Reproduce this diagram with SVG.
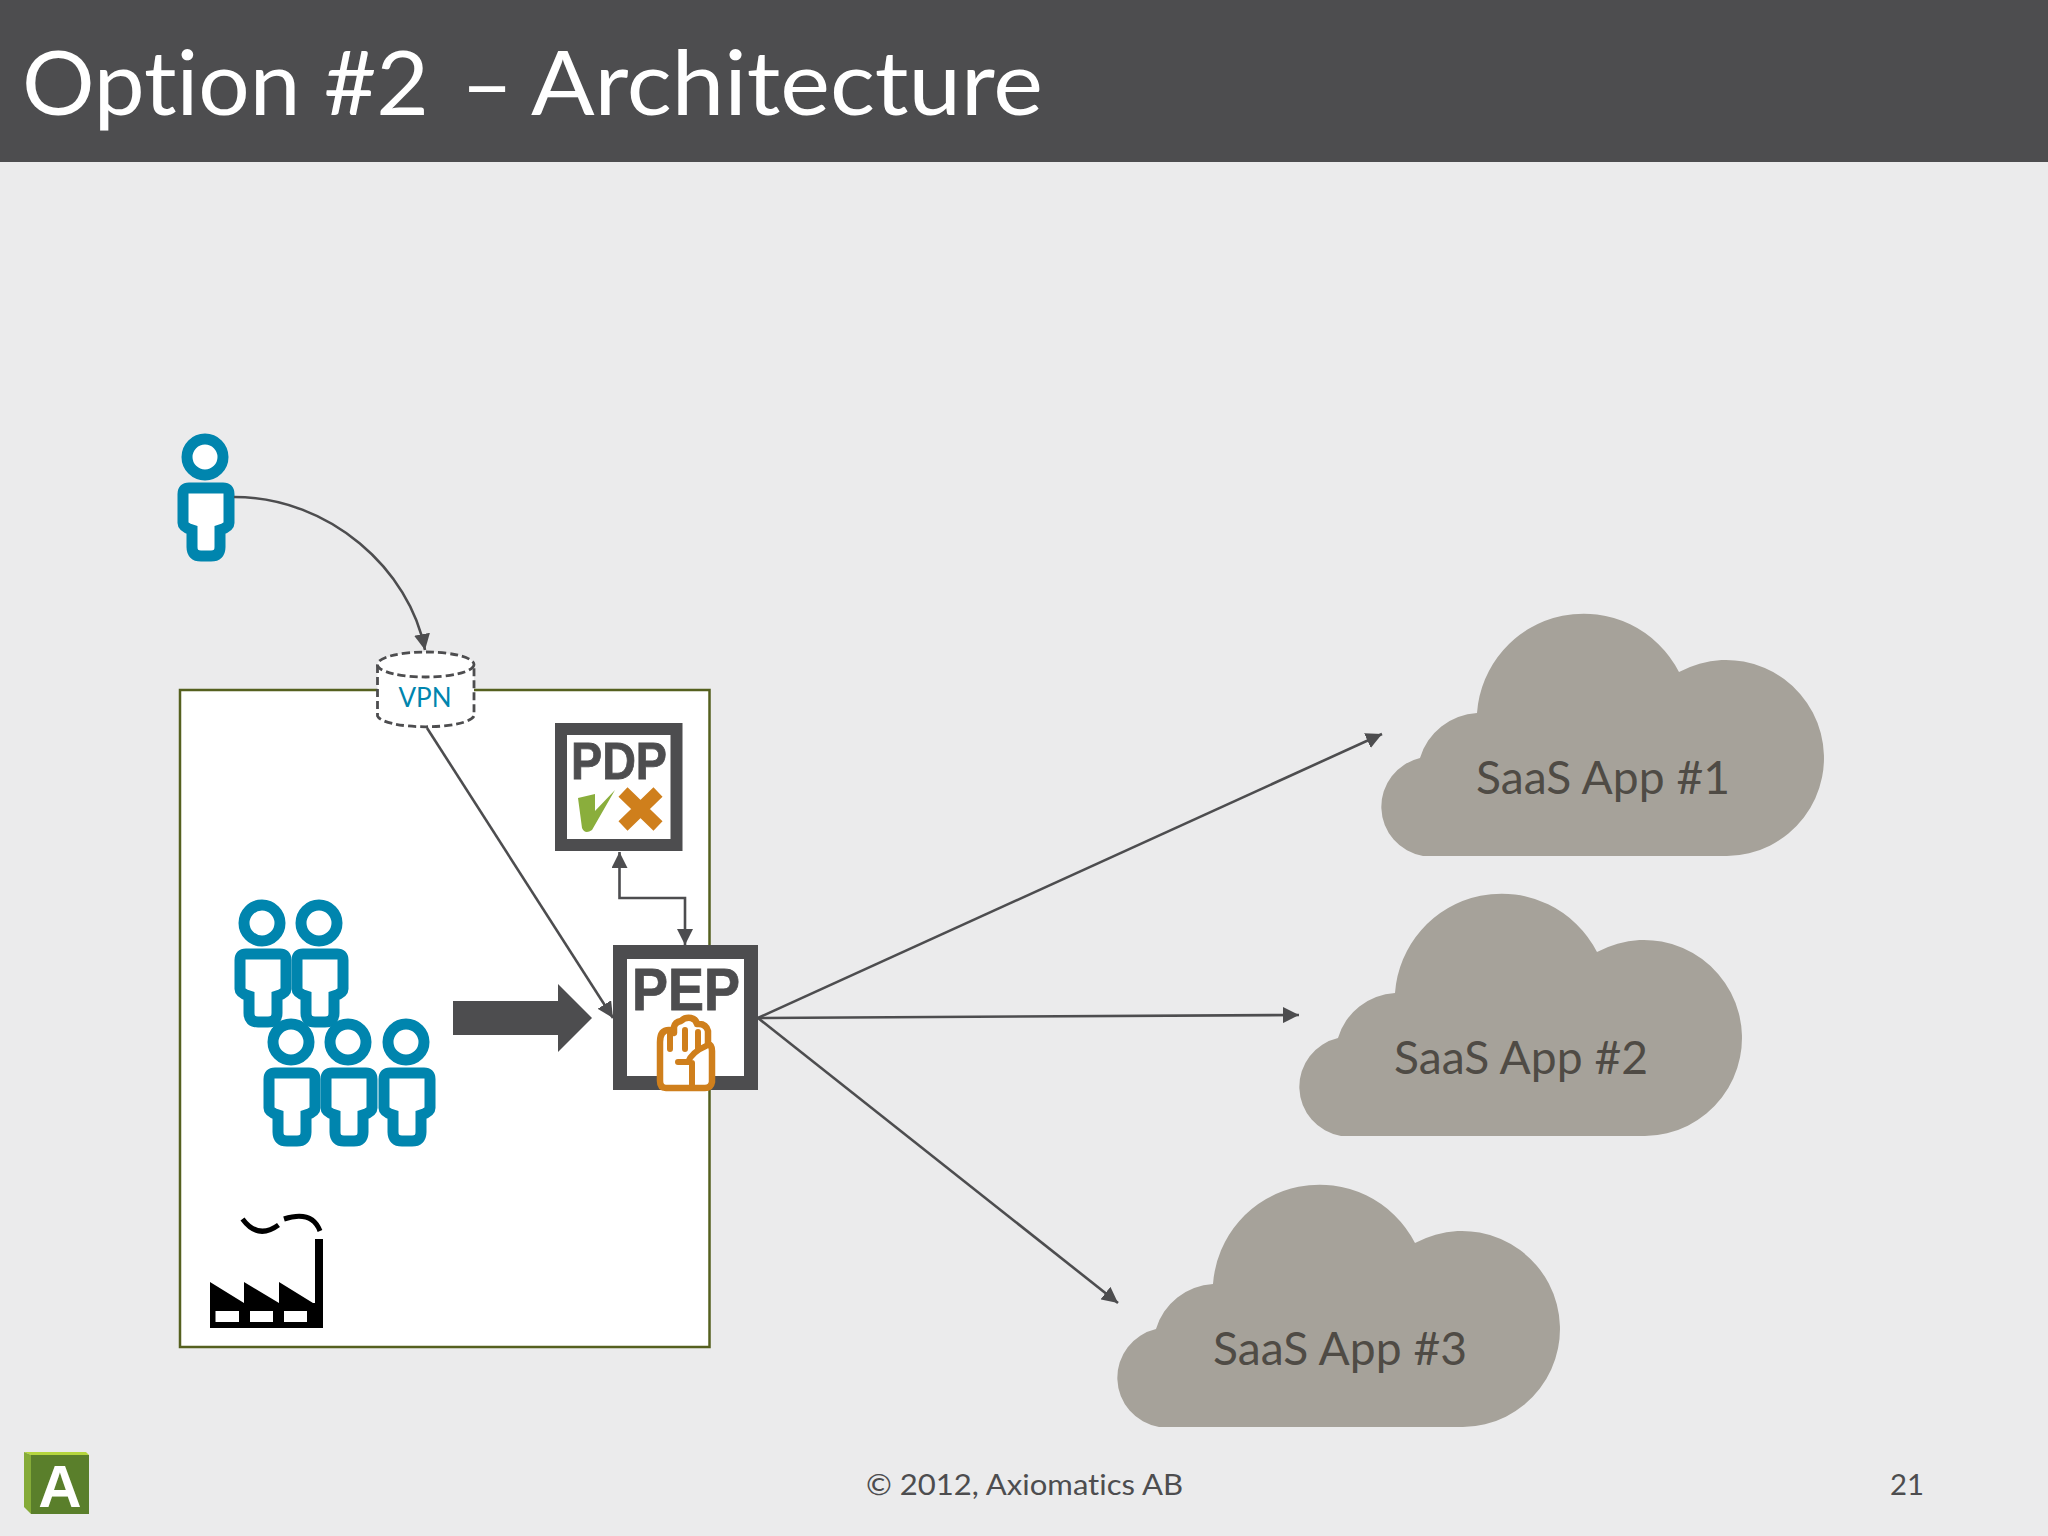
<svg xmlns="http://www.w3.org/2000/svg" xmlns:xlink="http://www.w3.org/1999/xlink" width="2048" height="1536" viewBox="0 0 2048 1536">
<style>
.t{font-family:"Lato","Open Sans",sans-serif;font-variant-ligatures:none;}
.b{font-family:"Liberation Sans",Arial,sans-serif;font-weight:bold;fill:#4D4D4F;stroke:#4D4D4F;stroke-width:.8;}
.con{fill:none;stroke:#4D4D4F;stroke-width:2.6;}
.ps{fill:#fff;stroke:#0085AE;stroke-width:11;}
.saas{font-size:46px;fill:#4F4B45;}
.foot{font-size:29px;fill:#4D4D4F;}
.cloud{fill:#A6A29A;}
</style>
<defs>
<marker id="ah" viewBox="0 0 16 16" refX="16" refY="8" markerWidth="16" markerHeight="16" markerUnits="userSpaceOnUse" orient="auto-start-reverse"><path d="M0,0L16,8L0,16Z" fill="#4D4D4F"/></marker>
<g id="person"><circle r="18" class="ps"/><path class="ps" d="M-16,31H18Q24,31 24,37V66Q24,70 15,73V90Q15,99 6,99H-4Q-13,99 -13,90V73Q-22,70 -22,66V37Q-22,31 -16,31Z"/></g>
<path id="cloudshape" class="cloud" d="M1423,856A50,50 0 0 1 1420,758A63,63 0 0 1 1477,713A107,107 0 0 1 1679,672A98,98 0 1 1 1727,856Z"/>
</defs>
<rect width="2048" height="1536" fill="#EBEBEC"/>
<g id="header"><rect width="2048" height="162" fill="#4D4D4F"/><text class="t" y="115" font-size="90" fill="#fff"><tspan x="22" textLength="407" lengthAdjust="spacingAndGlyphs">Option #2</tspan> <tspan x="461">–</tspan> <tspan x="531" textLength="512" lengthAdjust="spacingAndGlyphs">Architecture</tspan></text></g>
<g id="site"><rect x="180" y="690" width="529.5" height="657" fill="#fff" stroke="#55601F" stroke-width="2.5"/></g>
<g id="user"><use xlink:href="#person" href="#person" x="205" y="457"/></g>
<g id="vpn"><path d="M377.5,665V716A48.5,12 0 0 0 474,716V665Z" fill="#fff" stroke="#4D4D4F" stroke-width="2.8" stroke-dasharray="8 4"/><ellipse cx="425.7" cy="664.5" rx="48.3" ry="12.5" fill="#fff" stroke="#4D4D4F" stroke-width="2.8" stroke-dasharray="8 4"/><text class="t" x="425" y="707" font-size="27" fill="#0085AE" text-anchor="middle" textLength="53" lengthAdjust="spacingAndGlyphs">VPN</text></g>
<g id="users">
<use xlink:href="#person" href="#person" x="262" y="923"/><use xlink:href="#person" href="#person" x="319" y="923"/>
<use xlink:href="#person" href="#person" x="291" y="1042"/><use xlink:href="#person" href="#person" x="348" y="1042"/><use xlink:href="#person" href="#person" x="406" y="1042"/>
</g>
<g id="factory">
<path d="M210,1282L244,1303V1282L279,1303V1282L313,1303H315V1239H323V1328H210Z" fill="#000"/>
<path fill="#fff" d="M215.5,1311H239V1322H215.5ZM250,1311H273V1322H250ZM284,1311H307V1322H284Z"/>
<path d="M242.5,1219Q258,1240 278.5,1225M284,1219Q312,1210 320,1231" fill="none" stroke="#000" stroke-width="5"/>
</g>
<g id="pdp">
<rect x="561" y="729" width="115.5" height="116" fill="#fff" stroke="#4D4D4F" stroke-width="12"/>
<text class="b" x="571" y="779" font-size="52" textLength="96" lengthAdjust="spacingAndGlyphs">PDP</text>
<path d="M578,798L595,794V811L615,790L592,830Q585,835 582,828Z" fill="#8AAE3C"/>
<path d="M623,792L658,826M658,792L623,826" stroke="#CF7F1C" stroke-width="13" fill="none"/>
</g>
<g id="pep">
<rect x="620" y="952" width="131" height="131" fill="#fff" stroke="#4D4D4F" stroke-width="14"/>
<text class="b" x="632" y="1010" font-size="60" textLength="108" lengthAdjust="spacingAndGlyphs">PEP</text>
<path d="M666,1088Q660,1088 660,1081V1042Q660,1030 669,1030Q673,1030 674,1033V1027Q675,1022 681,1021Q685,1017 691,1018Q696,1019 697,1024Q706,1023 708,1031V1044Q712,1045 712,1051V1082Q711,1088 705,1088Z" fill="#fff" stroke="#CF7F1C" stroke-width="6.5" stroke-linejoin="round"/>
<path d="M670,1034V1049M685,1030V1049M698,1032V1049M678,1062H688Q692,1052 706,1046M692,1063V1086" fill="none" stroke="#CF7F1C" stroke-width="6" stroke-linecap="round"/>
</g>
<g id="cloud1"><use xlink:href="#cloudshape" href="#cloudshape"/><text class="t saas" x="1476" y="794" textLength="254" lengthAdjust="spacingAndGlyphs">SaaS App #1</text></g>
<g id="cloud2"><use xlink:href="#cloudshape" href="#cloudshape" x="-82" y="280"/><text class="t saas" x="1394" y="1074" textLength="254" lengthAdjust="spacingAndGlyphs">SaaS App #2</text></g>
<g id="cloud3"><use xlink:href="#cloudshape" href="#cloudshape" x="-264" y="571"/><text class="t saas" x="1213" y="1365" textLength="254" lengthAdjust="spacingAndGlyphs">SaaS App #3</text></g>
<g id="connectors">
<path class="con" d="M234,497C330,497 410,570 425,650" marker-end="url(#ah)"/>
<path class="con" d="M427,728L613,1018" marker-end="url(#ah)"/>
<path class="con" d="M619.5,852V898H685V945" marker-start="url(#ah)" marker-end="url(#ah)"/>
<path class="con" d="M758,1018L1382,734" marker-end="url(#ah)"/>
<path class="con" d="M758,1018L1299,1015" marker-end="url(#ah)"/>
<path class="con" d="M758,1018L1118,1303" marker-end="url(#ah)"/>
<path d="M453,1001H558V984L592,1018L558,1052V1035H453Z" fill="#4D4D4F"/>
</g>
<g id="footer">
<text class="t foot" x="866" y="1495" textLength="317" lengthAdjust="spacingAndGlyphs">© 2012, Axiomatics AB</text>
<text class="t foot" x="1890" y="1495" textLength="34" lengthAdjust="spacingAndGlyphs">21</text>
</g>
<g id="logo">
<path d="M24,1452H86L89,1455H31Z" fill="#B5D63E"/>
<path d="M24,1452L31,1455V1514L24,1507Z" fill="#85AB38"/>
<rect x="31" y="1455" width="58" height="59" fill="#5A7F2B"/>
<text x="60" y="1507" font-size="60" font-family="Liberation Sans, Arial, sans-serif" font-weight="bold" fill="#fff" text-anchor="middle">A</text>
</g>
</svg>
